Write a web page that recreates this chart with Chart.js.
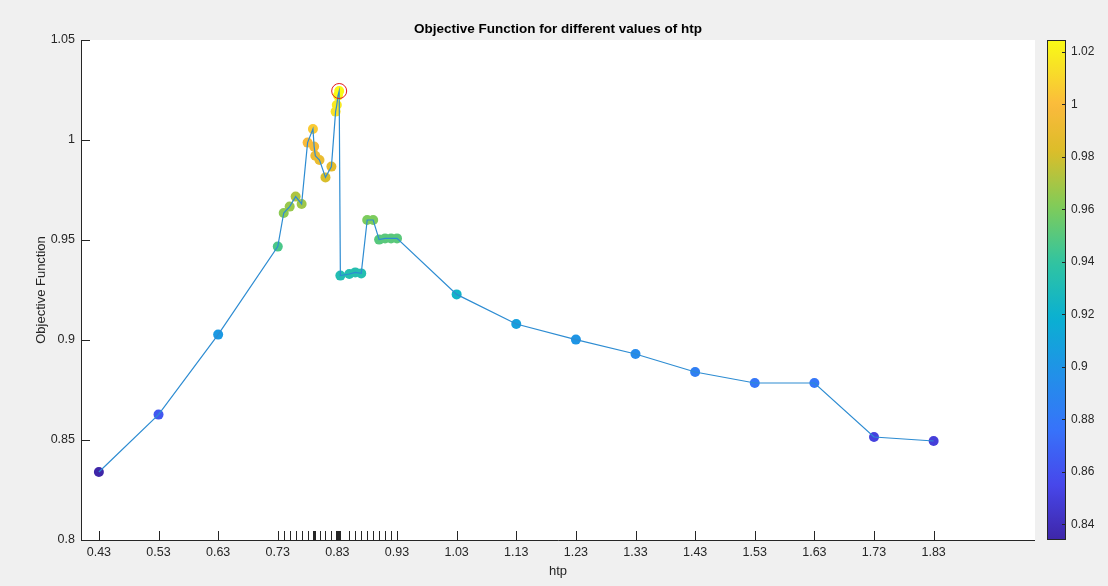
<!DOCTYPE html>
<html>
<head>
<meta charset="utf-8">
<script src="https://cdn.jsdelivr.net/npm/chart.js@4.4.1/dist/chart.umd.min.js"></script>
<style>
  html, body { margin: 0; padding: 0; background: #f0f0f0; }
  #grafico { display: block; }
</style>
</head>
<body>
<canvas id="grafico" width="1108" height="586"></canvas>
<script>
// valores de htp e da funcao objetivo
const htp = [0.43, 0.53, 0.63, 0.73, 0.74, 0.75, 0.76, 0.77, 0.78, 0.789, 0.791, 0.793,
  0.80, 0.81, 0.82, 0.827, 0.829, 0.831, 0.833, 0.835, 0.85, 0.86, 0.87, 0.88, 0.89,
  0.90, 0.91, 0.92, 0.93, 1.03, 1.13, 1.23, 1.33, 1.43, 1.53, 1.63, 1.73, 1.83];
const objetivo = [0.834, 0.8627, 0.9027, 0.9467, 0.9635, 0.9667, 0.9717, 0.968, 0.9987, 1.0055, 0.9967, 0.9921,
  0.990, 0.9813, 0.9867, 1.0142, 1.0175, 1.0222, 1.0245, 0.9322, 0.9330, 0.9338, 0.9333, 0.9600, 0.9600,
  0.9502, 0.9508, 0.9508, 0.9508, 0.9228, 0.9080, 0.9002, 0.8930, 0.8840, 0.8785, 0.8785, 0.8515, 0.8495];

const xTicks = [0.43, 0.53, 0.63, 0.73, 0.83, 0.93, 1.03, 1.13, 1.23, 1.33, 1.43, 1.53, 1.63, 1.73, 1.83];
const yTicks = [0.8, 0.85, 0.9, 0.95, 1, 1.05];
const cbTicks = [0.84, 0.86, 0.88, 0.9, 0.92, 0.94, 0.96, 0.98, 1, 1.02];

const cMin = Math.min(...objetivo);
const cMax = Math.max(...objetivo);
const iMax = objetivo.indexOf(cMax);

const fonte = '"Liberation Sans", Arial, Helvetica, sans-serif';
const corEixo = '#262626';

// aproximacao do mapa de cores parula
const parulaStops = [
  [0.000, [62, 38, 168]],
  [0.111, [71, 71, 235]],
  [0.222, [55, 115, 250]],
  [0.333, [33, 145, 232]],
  [0.444, [10, 176, 210]],
  [0.556, [49, 196, 160]],
  [0.667, [128, 204, 89]],
  [0.778, [220, 189, 41]],
  [0.870, [251, 186, 60]],
  [0.940, [248, 222, 40]],
  [1.000, [249, 251, 21]]
];

function parula(t) {
  t = Math.max(0, Math.min(1, t));
  for (let i = 1; i < parulaStops.length; i++) {
    const [t1, c1] = parulaStops[i];
    const [t0, c0] = parulaStops[i - 1];
    if (t <= t1) {
      const f = (t - t0) / (t1 - t0);
      const c = c0.map((v, k) => Math.round(v + (c1[k] - v) * f));
      return `rgb(${c[0]},${c[1]},${c[2]})`;
    }
  }
  return 'rgb(249,251,21)';
}

const pontos = htp.map((x, i) => ({ x: x, y: objetivo[i] }));
const coresPontos = objetivo.map(v => parula((v - cMin) / (cMax - cMin)));

// fundo branco, eixos, marcas internas e barra de cores
const eixosPlugin = {
  id: 'eixosMatlab',
  beforeDraw(chart) {
    const { ctx, chartArea: a } = chart;
    ctx.save();
    ctx.fillStyle = '#ffffff';
    ctx.fillRect(a.left, a.top, a.right - a.left, a.bottom - a.top);
    ctx.restore();
  },
  afterDraw(chart) {
    const { ctx, chartArea: a, scales } = chart;
    const sx = scales.x, sy = scales.y, cb = scales.cb;
    ctx.save();
    ctx.strokeStyle = corEixo;
    ctx.lineWidth = 1;
    ctx.beginPath();
    ctx.moveTo(a.left + 0.5, a.top);
    ctx.lineTo(a.left + 0.5, a.bottom + 0.5);
    ctx.lineTo(a.right, a.bottom + 0.5);
    ctx.stroke();

    const marcasX = xTicks.concat(htp);
    ctx.beginPath();
    marcasX.forEach(v => {
      const px = Math.round(sx.getPixelForValue(v)) + 0.5;
      ctx.moveTo(px, a.bottom);
      ctx.lineTo(px, a.bottom - 9);
    });
    yTicks.forEach(v => {
      const py = Math.round(sy.getPixelForValue(v)) + 0.5;
      ctx.moveTo(a.left, py);
      ctx.lineTo(a.left + 9, py);
    });
    ctx.stroke();

    // barra de cores
    const x0 = cb.left + 12, x1 = cb.left + 31;
    const grad = ctx.createLinearGradient(0, cb.bottom, 0, cb.top);
    for (let i = 0; i <= 64; i++) grad.addColorStop(i / 64, parula(i / 64));
    ctx.fillStyle = grad;
    ctx.fillRect(x0, cb.top, x1 - x0, cb.bottom - cb.top);
    ctx.strokeRect(x0 + 0.5, cb.top + 0.5, x1 - x0 - 1, cb.bottom - cb.top - 1);
    ctx.beginPath();
    cbTicks.forEach(v => {
      const py = Math.round(cb.getPixelForValue(v)) + 0.5;
      ctx.moveTo(x1, py);
      ctx.lineTo(x1 - 4, py);
    });
    ctx.stroke();
    ctx.restore();
  }
};

new Chart(document.getElementById('grafico'), {
  type: 'scatter',
  data: {
    datasets: [
      {
        data: [pontos[iMax]],
        pointRadius: 7.5,
        pointBackgroundColor: 'rgba(0,0,0,0)',
        pointBorderColor: '#e31a1c',
        pointBorderWidth: 1
      },
      {
        type: 'line',
        data: pontos,
        borderColor: 'rgb(45,140,210)',
        borderWidth: 1.2,
        pointRadius: 0,
        tension: 0,
        fill: false
      },
      {
        data: pontos,
        pointRadius: 5,
        pointBackgroundColor: coresPontos,
        pointBorderWidth: 0
      }
    ]
  },
  plugins: [eixosPlugin],
  options: {
    responsive: false,
    animation: false,
    layout: { padding: 0 },
    plugins: {
      legend: { display: false },
      tooltip: { enabled: false },
      title: {
        display: true,
        fullSize: false,
        text: 'Objective Function for different values of htp',
        color: '#000',
        font: { family: fonte, size: 13.5, weight: 'bold' },
        padding: { top: 20.8, bottom: 3 }
      }
    },
    scales: {
      x: {
        type: 'linear',
        min: 0.4,
        max: 2.0,
        afterBuildTicks: s => { s.ticks = xTicks.map(v => ({ value: v })); },
        afterFit: s => { s.height = 46; },
        grid: { display: false, drawTicks: false },
        border: { display: false },
        ticks: {
          autoSkip: false,
          maxRotation: 0,
          padding: 5,
          color: corEixo,
          font: { family: fonte, size: 12.5 },
          callback: v => v.toFixed(2)
        },
        title: {
          display: true,
          text: 'htp',
          color: corEixo,
          font: { family: fonte, size: 13 },
          padding: { top: 0, bottom: 7 }
        }
      },
      y: {
        min: 0.8,
        max: 1.05,
        afterBuildTicks: s => { s.ticks = yTicks.map(v => ({ value: v })); },
        afterFit: s => { s.width = 81; s.paddingTop = 0; s.paddingBottom = 0; },
        grid: { display: false, drawTicks: false },
        border: { display: false },
        ticks: {
          padding: 6,
          color: corEixo,
          font: { family: fonte, size: 12.5 },
          callback: v => String(+v.toFixed(2))
        },
        title: {
          display: true,
          text: 'Objective Function',
          color: corEixo,
          font: { family: fonte, size: 13 },
          padding: { top: 34, bottom: 0 }
        }
      },
      cb: {
        type: 'linear',
        position: 'right',
        min: cMin,
        max: cMax,
        afterBuildTicks: s => { s.ticks = cbTicks.map(v => ({ value: v })); },
        afterFit: s => { s.width = 73; s.paddingTop = 0; s.paddingBottom = 0; },
        grid: { display: false, drawTicks: false },
        border: { display: false },
        ticks: {
          padding: 36,
          color: corEixo,
          font: { family: fonte, size: 12 },
          callback: v => String(+v.toFixed(2))
        }
      }
    }
  }
});
</script>
</body>
</html>
